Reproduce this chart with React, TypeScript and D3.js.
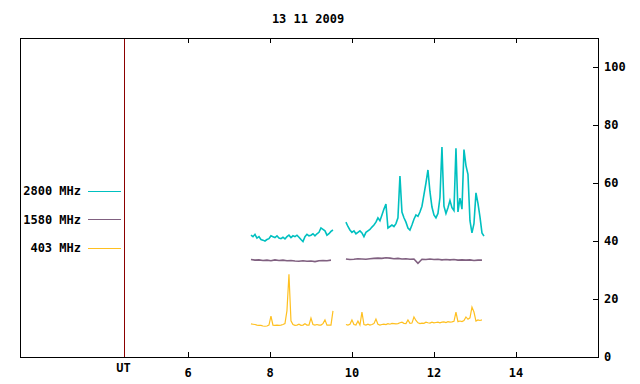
import React from 'react'
import * as d3 from 'd3'

const title = '13 11 2009'
const xTicks = [6, 8, 10, 12, 14]
const yTicks = [0, 20, 40, 60, 80, 100]
const utHour = 4.45

// sampling of the traces (hours)
const fineStep = 0.0488
const coarseStep = 0.0976
const start1 = 7.534
const start2 = 9.851

const cyan1 = [42, 41.5, 42.3, 41, 41.5, 40.5, 40.3, 40, 40.5, 40.8, 41.8, 41.5, 41.2, 41.8, 41, 40.8, 41.3, 40.7, 41.5, 42, 41.2,
	41.8, 41.5, 42, 41.3, 40.5, 39.8, 41.5, 42.3, 41.8, 42, 42.5, 41.8, 42.5, 43, 44.5, 44, 43.5, 42, 42.5, 43.3, 43.8]
const cyan2 = [46.5, 45, 43.8, 43, 43.5, 42.5, 43, 43.5, 42.8, 41.5, 43, 43.5, 44, 44.8, 45.5, 46.5, 48, 47, 49, 51, 52.7,
	44.5, 45, 45.5, 45, 46, 48, 62.4, 50, 48, 46.5, 44.5, 43.8, 45.5, 47.5, 49, 48.5, 50, 52, 56, 60, 64.5, 57, 51.7, 49,
	48, 49.5, 55, 72.4, 52, 49.5, 51.5, 54, 51.5, 50.5, 72, 50, 54.8, 51, 71.5, 66, 63, 47, 42.8, 46, 56.6, 53, 48.3, 42.8, 41.7]

const purple1 = [33.6, 33.4, 33.5, 33.3, 33.4, 33.2, 33.5, 33.3, 33.4, 33.2, 33.3, 33.1, 33.0, 33.2, 33.0, 33.1, 32.9, 33.2,
	33.3, 33.2, 33.4]
const purple2 = [33.8, 33.6, 33.7, 33.9, 33.8, 33.7, 33.9, 34.0, 34.1, 34.0, 34.2, 34.1, 33.9, 34.0, 33.8, 33.9, 33.7, 33.8,
	32.3, 33.7, 33.6, 33.8, 33.6, 33.7, 33.5, 33.6, 33.5, 33.6, 33.4, 33.5, 33.4, 33.5, 33.3, 33.4, 33.4]

const orange1 = [11.4, 11.3, 11.2, 11, 10.9, 10.9, 10.7, 10.6, 10.7, 11, 14.1, 11, 10.9, 11, 10.9, 11, 11.2, 11.5, 16, 28.5,
	12.5, 11.2, 10.9, 11, 11.3, 10.9, 11, 11.5, 11, 11, 13.4, 11.2, 11, 11.2, 11, 11, 11.5, 12.8, 11, 11, 11, 15.9]
const orange2 = [11.2, 11, 11.3, 12.8, 11.2, 11, 12.4, 11, 15.5, 11.2, 11, 11.3, 11, 11.2, 11.5, 13.1, 11.3, 11, 11.2, 11.3,
	11.2, 11.5, 11.3, 11.6, 11.5, 11.4, 11.5, 11.8, 12, 11.6, 11.5, 12.8, 11.6, 11.7, 13.8, 12.6, 11.8, 11.5, 11.7, 11.6, 12,
	11.8, 11.7, 12, 11.8, 11.9, 12, 11.8, 12, 12.1, 11.9, 12.2, 12, 12.1, 12.3, 15.5, 12.2, 12.4, 12.2, 12.6, 13.8, 13, 13.5,
	17.2, 15.5, 12.4, 12.8, 12.6, 12.8]

const series = [
	{ label: '2800 MHz', color: '#00c0c0', width: 1.6, segs: [{ start: start1, step: fineStep, values: cyan1 }, { start: start2, step: fineStep, values: cyan2 }] },
	{ label: '1580 MHz', color: '#806080', width: 1.6, segs: [{ start: start1, step: coarseStep, values: purple1 }, { start: start2, step: coarseStep, values: purple2 }] },
	{ label: '403 MHz', color: '#ffc020', width: 1.2, segs: [{ start: start1, step: fineStep, values: orange1 }, { start: start2, step: fineStep, values: orange2 }] },
]

const W = 640
const H = 384
const left = 20
const right = 598
const top = 38
const bottom = 357
const font = '"DejaVu Sans Mono", monospace'

export default function App() {
	const x = d3.scaleLinear().domain([1.9, 16]).range([left, right])
	const y = d3.scaleLinear().domain([0, 110]).range([bottom, top])
	const line = d3.line<[number, number]>().x(d => x(d[0])).y(d => y(d[1]))

	return (
		<div style={{ position: 'fixed', left: 0, top: 0 }}>
			<svg width={W} height={H} style={{ display: 'block', background: 'white' }} fontFamily={font} fontWeight="bold" fontSize={12}>
				<text x={308} y={23} textAnchor="middle">{title}</text>

				{/* traces */}
				{series.map(s => s.segs.map((seg, j) => (
					<path key={s.label + j} d={line(seg.values.map((v, i) => [seg.start + i * seg.step, v]) as [number, number][]) || ''}
						fill="none" stroke={s.color} strokeWidth={s.width} strokeLinejoin="miter" />
				)))}

				{/* UT marker */}
				<line x1={x(utHour)} x2={x(utHour)} y1={top} y2={bottom} stroke="#8b0000" shapeRendering="crispEdges" />
				<text x={x(utHour) - 1} y={372} textAnchor="middle">UT</text>

				{/* frame */}
				<rect x={left + 0.5} y={top + 0.5} width={right - left} height={bottom - top} fill="none" stroke="black" shapeRendering="crispEdges" />

				{xTicks.map(t => (
					<g key={t}>
						<line x1={x(t)} x2={x(t)} y1={bottom} y2={bottom - 5} stroke="black" shapeRendering="crispEdges" />
						<line x1={x(t)} x2={x(t)} y1={top} y2={top + 5} stroke="black" shapeRendering="crispEdges" />
						<text x={x(t)} y={377} textAnchor="middle">{t}</text>
					</g>
				))}
				{yTicks.map(t => (
					<g key={t}>
						<line x1={right - 5} x2={right} y1={y(t)} y2={y(t)} stroke="black" shapeRendering="crispEdges" />
						<text x={604} y={y(t) + 4}>{t}</text>
					</g>
				))}

				{/* legend */}
				{series.map((s, i) => {
					const ly = 191 + i * 28.5
					return (
						<g key={s.label}>
							<text x={81} y={ly + 4} textAnchor="end">{s.label}</text>
							<line x1={88} x2={121} y1={ly} y2={ly} stroke={s.color} shapeRendering="crispEdges" />
						</g>
					)
				})}
			</svg>
		</div>
	)
}
